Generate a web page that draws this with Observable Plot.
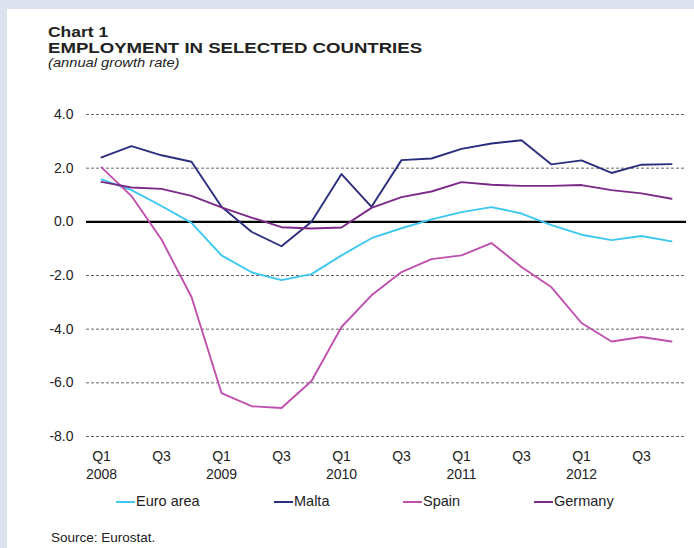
<!DOCTYPE html>
<html>
<head>
<meta charset="utf-8">
<script src="https://cdn.jsdelivr.net/npm/d3@7"></script>
<script src="https://cdn.jsdelivr.net/npm/@observablehq/plot@0.6"></script>
<style>
  html, body { margin: 0; padding: 0; }
  body { width: 694px; height: 548px; background: #dce3ef; position: relative; overflow: hidden;
         font-family: "Liberation Sans", Arial, sans-serif; color: #222; }
  #panel { position: absolute; left: 7px; top: 9px; width: 687px; height: 539px; background: #fff; }
  .t { position: absolute; white-space: nowrap; transform-origin: 0 0; }
  #chart { position: absolute; left: 0; top: 0; }
  .leg { position: absolute; top: 493px; font-size: 14.5px; line-height: 17px; display: flex; align-items: center; }
  .leg span.sw { display: inline-block; width: 19px; height: 2px; margin-right: 1px; }
</style>
</head>
<body>
<div id="panel"></div>
<div class="t" style="left:48px; top:24px; font-size:15.5px; font-weight:bold; line-height:16px; transform:scaleX(1.125);">Chart 1</div>
<div class="t" style="left:48px; top:39.5px; font-size:15.5px; font-weight:bold; line-height:16px; transform:scaleX(1.2);">EMPLOYMENT IN SELECTED COUNTRIES</div>
<div class="t" style="left:48px; top:56px; font-size:13px; font-style:italic; line-height:13px; transform:scaleX(1.13);">(annual growth rate)</div>
<div id="chart"></div>
<div id="legend"></div>
<div class="t" style="left:51px; top:530px; font-size:13.5px; line-height:15px;">Source: Eurostat.</div>
<script>
const quarters = ["2008Q1","2008Q2","2008Q3","2008Q4","2009Q1","2009Q2","2009Q3","2009Q4",
  "2010Q1","2010Q2","2010Q3","2010Q4","2011Q1","2011Q2","2011Q3","2011Q4",
  "2012Q1","2012Q2","2012Q3","2012Q4"];
const euroArea = [1.58, 1.18, 0.59, -0.04, -1.25, -1.88, -2.17, -1.95, -1.25, -0.61, -0.24, 0.09, 0.36, 0.55, 0.31, -0.12, -0.48, -0.68, -0.53, -0.73];
const malta    = [2.40, 2.82, 2.48, 2.24, 0.56, -0.37, -0.91, 0.00, 1.78, 0.56, 2.30, 2.36, 2.72, 2.92, 3.04, 2.14, 2.29, 1.82, 2.13, 2.15];
const spain    = [2.03, 0.96, -0.66, -2.80, -6.38, -6.87, -6.94, -5.93, -3.92, -2.74, -1.87, -1.39, -1.25, -0.79, -1.68, -2.44, -3.77, -4.46, -4.29, -4.46];
const germany  = [1.49, 1.28, 1.23, 0.97, 0.54, 0.16, -0.20, -0.25, -0.21, 0.52, 0.92, 1.13, 1.48, 1.38, 1.34, 1.34, 1.37, 1.18, 1.06, 0.86];
const seriesNames = ["Euro area", "Malta", "Spain", "Germany"];
const seriesColors = ["#3cc8f0", "#2b2e7c", "#c050ae", "#7b2a88"];
const yTicks = [-8, -6, -4, -2, 0, 2, 4];
const xTicks = quarters.filter((q, i) => i % 2 === 0);

const seriesValues = [euroArea, malta, spain, germany];
const rows = [];
seriesNames.forEach((name, s) => {
  quarters.forEach((q, i) => rows.push({series: name, quarter: q, value: seriesValues[s][i]}));
});

const xLabel = q => {
  const y = q.slice(0, 4), p = q.slice(4);
  return p === "Q1" ? p + "\n" + y : p;
};

const chart = Plot.plot({
  width: 694,
  height: 490,
  marginLeft: 86,
  marginRight: 8,
  marginTop: 114,
  marginBottom: 54,
  style: {fontFamily: "'Liberation Sans', Arial, sans-serif", fontSize: "14px", color: "#222", background: "transparent"},
  x: {type: "point", domain: quarters, padding: 0.5, label: null},
  y: {domain: [-8, 4], label: null},
  color: {domain: seriesNames, range: seriesColors},
  marks: [
    Plot.ruleY(yTicks.filter(d => d !== 0), {stroke: "#666", strokeWidth: 1, strokeDasharray: "3,2"}),
    Plot.ruleY([0], {stroke: "#000", strokeWidth: 2.2}),
    Plot.line(rows, {x: "quarter", y: "value", z: "series", stroke: "series", strokeWidth: 1.9}),
    Plot.axisY({ticks: yTicks, tickFormat: d => d.toFixed(1), tickSize: 0, tickPadding: 13, fontSize: 14, fill: "#222", label: null}),
    Plot.axisX({ticks: xTicks, tickFormat: xLabel, tickSize: 0, tickPadding: 12, fontSize: 14, lineHeight: 1.27, fill: "#222", label: null})
  ]
});
document.getElementById("chart").appendChild(chart);

const legendPos = [116, 274, 403, 534];
const legend = document.getElementById("legend");
seriesNames.forEach((name, i) => {
  const d = document.createElement("div");
  d.className = "leg";
  d.style.left = legendPos[i] + "px";
  d.innerHTML = `<span class="sw" style="background:${seriesColors[i]}"></span>${name}`;
  legend.appendChild(d);
});
</script>
</body>
</html>
